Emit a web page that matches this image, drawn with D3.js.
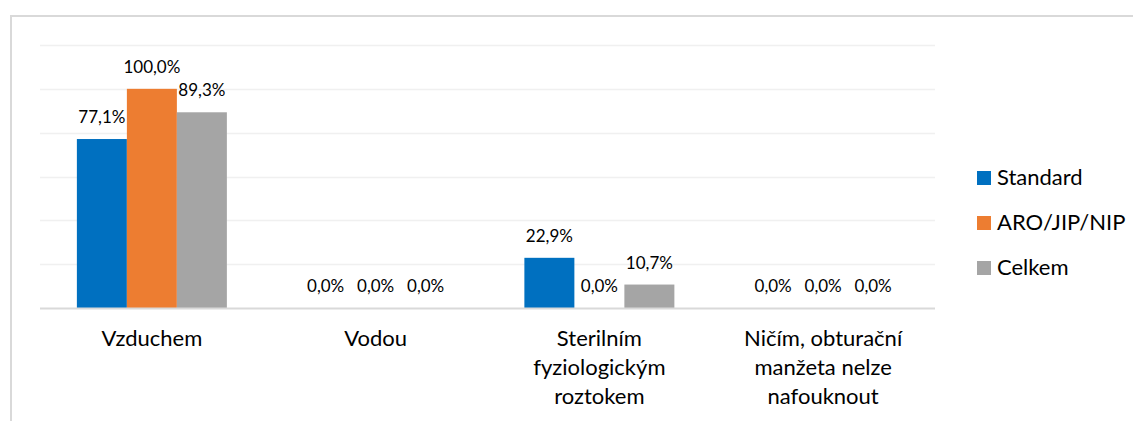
<!DOCTYPE html>
<html>
<head>
<meta charset="utf-8">
<script src="https://cdn.jsdelivr.net/npm/d3@7"></script>
<style>
body{margin:0;background:#fff;}
text{font-family:Lato,"Open Sans",sans-serif;fill:#000;}
</style>
</head>
<body>
<script>
// data
var categories=[["Vzduchem"],["Vodou"],["Sterilním","fyziologickým","roztokem"],["Ničím, obturační","manžeta nelze","nafouknout"]];
var seriesNames=["Standard","ARO/JIP/NIP","Celkem"];
var standard=[77.1,0,22.9,0];
var aro=[100,0,0,0];
var celkem=[89.3,0,10.7,0];
var colors=["#0070c0","#ed7d31","#a5a5a5"];
var yTicks=[0,20,40,60,80,100,120];

var W=1133,H=421;
var plot={left:40,right:935,top:45,bottom:308};

var svg=d3.select("body").append("svg").attr("width",W).attr("height",H);

// chart border
svg.append("rect").attr("x",11).attr("y",16).attr("width",W).attr("height",H)
	.attr("fill","none").attr("stroke","#d9d9d9").attr("stroke-width",2);

var x0=d3.scaleBand().domain(d3.range(categories.length)).range([plot.left,plot.right]);
var groupW=150;
var x1=d3.scaleBand().domain(d3.range(seriesNames.length)).range([0,groupW]);
var y=d3.scaleLinear().domain([0,120]).range([plot.bottom,plot.top]);

// gridlines
svg.append("g").selectAll("line").data(yTicks.slice(1)).enter().append("line")
	.attr("x1",plot.left).attr("x2",plot.right)
	.attr("y1",function(d){return Math.round(y(d))+0.5;})
	.attr("y2",function(d){return Math.round(y(d))+0.5;})
	.attr("stroke","#f0f0f0").attr("stroke-width",1.5);

var series=[standard,aro,celkem];
var rows=[];
series.forEach(function(vals,s){
	vals.forEach(function(v,c){rows.push({s:s,c:c,v:v});});
});

function bx(d){return x0(d.c)+(x0.bandwidth()-groupW)/2+x1(d.s);}

svg.append("g").selectAll("rect").data(rows).enter().append("rect")
	.attr("x",bx)
	.attr("y",function(d){return y(d.v);})
	.attr("width",x1.bandwidth())
	.attr("height",function(d){return y(0)-y(d.v);})
	.attr("fill",function(d){return colors[d.s];});

// baseline
svg.append("line").attr("x1",plot.left).attr("x2",plot.right)
	.attr("y1",y(0)+0.5).attr("y2",y(0)+0.5)
	.attr("stroke","#d9d9d9").attr("stroke-width",2);

// value labels
svg.append("g").selectAll("text").data(rows).enter().append("text")
	.attr("x",function(d){return bx(d)+x1.bandwidth()/2;})
	.attr("y",function(d){return y(d.v)-16;})
	.attr("text-anchor","middle")
	.style("font-size","17px")
	.text(function(d){return d.v.toFixed(1).replace(".",",")+"%";});

// category labels
var cat=svg.append("g").selectAll("text").data(categories).enter().append("text")
	.attr("text-anchor","middle")
	.style("font-size","22px")
	.attr("transform",function(d,i){return "translate("+(x0(i)+x0.bandwidth()/2)+",346)";});
cat.selectAll("tspan").data(function(d){return d;}).enter().append("tspan")
	.attr("x",0).attr("y",function(d,i){return i*29;})
	.text(function(d){return d;});

// legend
var leg=svg.append("g").selectAll("g").data(seriesNames).enter().append("g")
	.attr("transform",function(d,i){return "translate(977,"+(171+i*45)+")";});
leg.append("rect").attr("width",14).attr("height",14).attr("fill",function(d,i){return colors[i];});
leg.append("text").attr("x",20).attr("y",14).style("font-size","22px").text(function(d){return d;});
</script>
</body>
</html>
